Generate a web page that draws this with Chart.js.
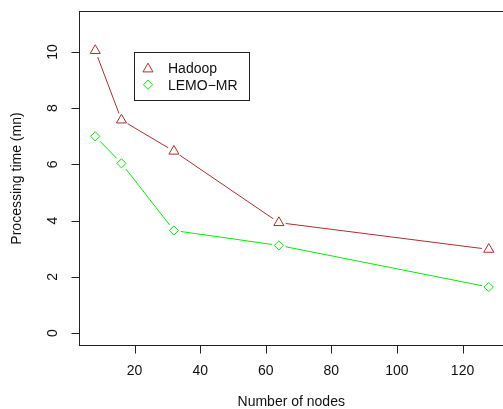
<!DOCTYPE html>
<html>
<head>
<meta charset="utf-8">
<script src="https://cdn.jsdelivr.net/npm/chart.js@4"></script>
<style>
  html, body { margin: 0; padding: 0; background: #fff; overflow: hidden; }
  #wrap { width: 506px; height: 409px; }
</style>
</head>
<body>
<div id="wrap"><canvas id="procTime" width="506" height="409"></canvas></div>
<script>
// data
let nodes = [8, 16, 32, 64, 128];
let hadoop = [10.05, 7.58, 6.47, 3.93, 2.98];
let lemo = [7.0, 6.04, 3.65, 3.12, 1.64];
let xTicks = [20, 40, 60, 80, 100, 120];
let yTicks = [0, 2, 4, 6, 8, 10];
let seriesNames = ["Hadoop", "LEMO\u2212MR"];

let hadoopColor = "#B22C2C";
let lemoColor = "#00EE00";
let font = "14px 'Liberation Sans', Arial, sans-serif";

// R style axes, box, labels and legend
let rAxes = {
  id: "rAxes",
  afterDatasetsDraw(chart) {
    let c = chart.ctx;
    let a = chart.chartArea;
    let xs = chart.scales.x, ys = chart.scales.y;

    // gaps around the points like type="b"
    chart.data.datasets.forEach((ds, i) => {
      let meta = chart.getDatasetMeta(i);
      meta.data.forEach(pt => {
        c.save();
        c.fillStyle = "#fff";
        c.beginPath();
        c.arc(pt.x, pt.y, 7, 0, Math.PI * 2);
        c.fill();
        c.restore();
      });
    });
    chart.data.datasets.forEach((ds, i) => {
      let meta = chart.getDatasetMeta(i);
      meta.data.forEach(pt => pt.draw(c, a));
    });

    c.save();
    c.strokeStyle = "#222";
    c.lineWidth = 1;
    c.strokeRect(a.left, a.top, a.right - a.left, a.bottom - a.top);

    c.fillStyle = "#111";
    c.font = font;

    // x axis
    c.beginPath();
    xTicks.forEach(v => {
      let px = Math.round(xs.getPixelForValue(v)) + 0.5;
      c.moveTo(px, a.bottom);
      c.lineTo(px, a.bottom + 8);
    });
    c.stroke();
    c.textAlign = "center";
    c.textBaseline = "middle";
    xTicks.forEach(v => {
      c.fillText(String(v), xs.getPixelForValue(v), a.bottom + 26);
    });
    c.fillText("Number of nodes", (a.left + 503) / 2, a.bottom + 57);

    // y axis
    c.beginPath();
    yTicks.forEach(v => {
      let py = Math.round(ys.getPixelForValue(v)) + 0.5;
      c.moveTo(a.left, py);
      c.lineTo(a.left - 8, py);
    });
    c.stroke();
    yTicks.forEach(v => {
      c.save();
      c.translate(a.left - 26, ys.getPixelForValue(v));
      c.rotate(-Math.PI / 2);
      c.fillText(String(v), 0, 0);
      c.restore();
    });
    c.save();
    c.translate(17, (a.top + a.bottom) / 2);
    c.rotate(-Math.PI / 2);
    c.fillText("Processing time (mn)", 0, 0);
    c.restore();

    // legend
    let lx = 134.5, ly = 52.5;
    c.strokeStyle = "#222";
    c.strokeRect(lx, ly, 115, 48);
    c.textAlign = "left";
    let rows = [
      { name: seriesNames[0], style: "triangle", color: hadoopColor, r: 5.8 },
      { name: seriesNames[1], style: "rectRot", color: lemoColor, r: 4.6 }
    ];
    rows.forEach((row, i) => {
      let cy = ly + 15.5 + i * 16.7;
      c.strokeStyle = row.color;
      c.fillStyle = "rgba(0,0,0,0)";
      Chart.helpers.drawPoint(c, { pointStyle: row.style, radius: row.r, borderWidth: 1, rotation: 0 }, lx + 13.5, cy + (row.style === "triangle" ? 1 : 0));
      c.fillStyle = "#111";
      c.fillText(row.name, lx + 33.5, cy + 1);
    });
    c.restore();
  }
};

let ctx = document.getElementById("procTime").getContext("2d");

let procChart = new Chart(ctx, {
  type: "line",
  data: {
    labels: nodes,
    datasets: [{
      label: seriesNames[0],
      data: nodes.map((n, i) => ({ x: n, y: hadoop[i] })),
      borderColor: hadoopColor,
      borderWidth: 1,
      pointStyle: "triangle",
      pointRadius: 5.8,
      pointBorderColor: hadoopColor,
      pointBackgroundColor: "rgba(0,0,0,0)",
      pointBorderWidth: 1,
      tension: 0
    }, {
      label: seriesNames[1],
      data: nodes.map((n, i) => ({ x: n, y: lemo[i] })),
      borderColor: lemoColor,
      borderWidth: 1,
      pointStyle: "rectRot",
      pointRadius: 4.6,
      pointBorderColor: lemoColor,
      pointBackgroundColor: "rgba(0,0,0,0)",
      pointBorderWidth: 1,
      tension: 0
    }]
  },
  options: {
    responsive: false,
    animation: false,
    events: [],
    layout: { autoPadding: false, padding: { left: 79.5, top: 11.5, right: 1.5, bottom: 63.5 } },
    plugins: { legend: { display: false }, tooltip: { enabled: false } },
    scales: {
      x: { type: "linear", min: 3.2, max: 132.8, display: false },
      y: { type: "linear", min: -0.44, max: 11.44, display: false }
    }
  },
  plugins: [rAxes]
});
</script>
</body>
</html>
